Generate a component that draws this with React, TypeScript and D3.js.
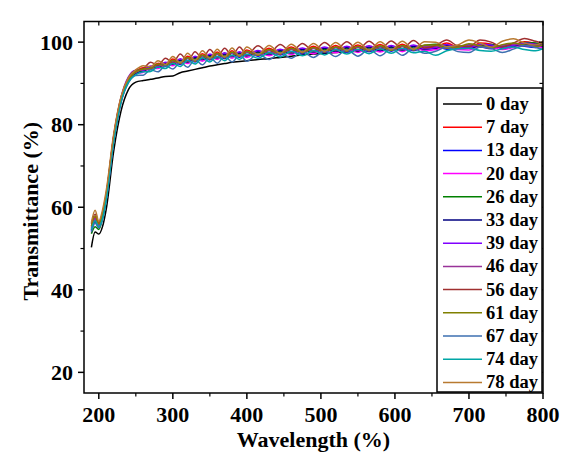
import React from "react";
import * as d3 from "d3";

const wavelengths = [190, 195, 200, 205, 210, 220, 230, 240, 250, 260, 270, 280, 290, 300, 310, 320, 330, 340, 350, 360, 370, 380, 390, 400, 415, 430, 445, 460, 475, 490, 505, 520, 535, 550, 565, 580, 595, 610, 625, 640, 655, 670, 685, 700, 715, 730, 745, 760, 775, 790, 800];

const legendLabels = ["0 day", "7 day", "13 day", "20 day", "26 day", "33 day", "39 day", "46 day", "56 day", "61 day", "67 day", "74 day", "78 day"];

const day0 = [50.3, 54.0, 53.5, 55.3, 59.5, 73.5, 83.3, 88.5, 90.3, 90.7, 91.0, 91.3, 91.7, 91.8, 92.6, 93.0, 93.4, 93.8, 94.2, 94.5, 94.8, 95.1, 95.3, 95.5, 95.8, 96.0, 96.3, 96.6, 96.9, 97.1, 97.3, 97.5, 97.7, 97.8, 98.0, 98.0, 98.2, 98.3, 98.4, 98.5, 98.5, 98.7, 98.6, 98.7, 98.9, 98.8, 98.8, 99.0, 99.2, 99.1, 99.0];
const day7 = [55.3, 57.5, 55.9, 58.2, 62.9, 76.9, 86.3, 91.0, 92.9, 93.8, 93.7, 94.9, 94.4, 95.9, 94.9, 96.6, 95.5, 97.2, 96.0, 97.6, 96.3, 97.9, 96.6, 98.1, 96.9, 98.5, 97.2, 98.8, 97.5, 99.0, 97.7, 99.2, 97.9, 99.3, 98.0, 99.4, 98.1, 99.5, 98.2, 98.4, 98.8, 99.8, 98.7, 98.6, 99.8, 99.5, 98.6, 99.3, 100.1, 99.7, 99.3];
const day13 = [54.2, 56.8, 55.2, 57.5, 62.2, 76.2, 85.8, 90.5, 92.4, 93.3, 93.4, 94.5, 94.1, 95.4, 94.6, 96.1, 95.2, 96.7, 95.7, 97.1, 96.0, 97.4, 96.3, 97.6, 96.6, 98.0, 96.9, 98.3, 97.2, 98.5, 97.4, 98.7, 97.6, 98.8, 97.7, 98.9, 97.8, 99.0, 97.9, 99.0, 99.0, 98.3, 98.6, 99.3, 98.9, 98.4, 99.2, 99.5, 99.0, 98.7, 99.3];
const day20 = [53.8, 56.3, 55.0, 57.3, 62.0, 76.0, 85.6, 90.4, 92.3, 92.7, 93.7, 93.6, 94.6, 94.3, 95.5, 94.8, 96.1, 95.4, 96.6, 95.8, 96.9, 96.1, 97.2, 96.3, 97.5, 96.7, 97.8, 97.0, 98.1, 97.2, 98.3, 97.4, 98.5, 97.5, 98.6, 97.6, 98.7, 97.7, 98.8, 97.9, 98.2, 98.9, 98.2, 98.1, 99.0, 98.8, 98.2, 98.7, 99.3, 99.0, 98.7];
const day26 = [53.6, 55.3, 54.6, 57.4, 62.3, 76.4, 86.0, 90.7, 92.6, 93.0, 93.8, 93.9, 94.7, 94.7, 95.5, 95.2, 96.1, 95.8, 96.6, 96.2, 96.9, 96.5, 97.2, 96.7, 97.5, 97.1, 97.8, 97.4, 98.1, 97.6, 98.3, 97.8, 98.5, 97.9, 98.6, 98.0, 98.7, 98.1, 98.8, 99.2, 99.5, 99.2, 98.8, 98.7, 99.2, 99.4, 99.0, 99.2, 99.9, 99.8, 99.4];
const day33 = [54.5, 56.6, 55.3, 57.6, 62.3, 76.3, 85.9, 90.6, 92.5, 93.0, 94.0, 94.0, 94.9, 94.7, 95.7, 95.2, 96.3, 95.8, 96.8, 96.2, 97.1, 96.5, 97.4, 96.7, 97.7, 97.1, 98.0, 97.4, 98.3, 97.6, 98.5, 97.8, 98.7, 97.9, 98.8, 98.0, 98.9, 98.1, 99.0, 98.3, 98.6, 99.1, 98.6, 98.5, 99.2, 99.1, 98.6, 99.0, 99.5, 99.3, 99.1];
const day39 = [55.0, 57.2, 55.6, 58.0, 62.8, 77.0, 86.6, 91.6, 93.2, 93.2, 94.2, 94.1, 95.1, 94.8, 96.0, 95.3, 96.6, 95.9, 97.1, 96.3, 97.4, 96.6, 97.7, 96.8, 98.0, 97.2, 98.3, 97.5, 98.6, 97.7, 98.8, 97.9, 99.0, 98.0, 99.1, 98.1, 99.2, 98.2, 99.3, 98.4, 98.7, 99.4, 98.7, 98.6, 99.5, 99.3, 98.7, 99.2, 99.8, 99.5, 99.2];
const day46 = [54.8, 57.0, 55.5, 57.8, 62.6, 76.6, 86.1, 90.9, 92.7, 93.4, 93.5, 94.5, 94.2, 95.4, 94.8, 96.1, 95.4, 96.7, 95.9, 97.1, 96.2, 97.4, 96.5, 97.6, 96.8, 98.0, 97.1, 98.3, 97.4, 98.5, 97.6, 98.7, 97.8, 98.8, 97.9, 98.9, 98.0, 99.0, 98.1, 99.0, 99.0, 98.5, 98.7, 99.3, 99.0, 98.5, 99.2, 99.5, 99.1, 98.9, 99.3];
const day56 = [56.0, 58.3, 56.3, 58.6, 63.3, 77.2, 86.6, 91.3, 93.2, 93.6, 95.1, 94.4, 96.1, 95.0, 97.1, 95.4, 97.7, 96.0, 98.2, 96.4, 98.5, 96.7, 98.8, 96.9, 99.1, 97.3, 99.4, 97.6, 99.7, 97.8, 99.9, 98.0, 100.1, 98.2, 100.2, 98.3, 100.3, 98.4, 100.4, 98.6, 99.2, 100.5, 99.1, 98.9, 100.5, 100.0, 98.8, 99.8, 100.9, 100.2, 99.7];
const day61 = [55.5, 57.8, 56.0, 58.2, 63.0, 76.8, 86.2, 90.9, 92.8, 93.5, 93.6, 94.7, 94.3, 95.6, 94.8, 96.3, 95.4, 96.9, 95.9, 97.3, 96.2, 97.6, 96.5, 97.8, 96.8, 98.2, 97.1, 98.5, 97.4, 98.7, 97.6, 98.9, 97.8, 99.0, 97.9, 99.1, 98.0, 99.2, 98.1, 99.3, 99.3, 98.6, 98.8, 99.6, 99.1, 98.6, 99.4, 99.8, 99.3, 98.9, 99.4];
const day67 = [54.0, 56.2, 55.0, 57.0, 61.6, 75.6, 85.3, 90.1, 91.9, 92.0, 93.3, 92.8, 94.3, 93.5, 95.2, 93.9, 95.8, 94.5, 96.3, 94.9, 96.6, 95.2, 96.9, 95.4, 97.2, 95.8, 97.5, 96.1, 97.8, 96.3, 98.0, 96.5, 98.2, 96.6, 98.3, 96.7, 98.4, 96.8, 98.5, 97.3, 97.8, 98.8, 97.7, 97.5, 98.8, 98.5, 97.5, 98.3, 99.2, 98.7, 98.3];
const day74 = [54.6, 56.7, 55.3, 57.2, 61.8, 75.8, 85.5, 90.3, 92.1, 92.8, 92.9, 94.0, 93.6, 94.9, 94.1, 95.6, 94.7, 96.2, 95.2, 96.6, 95.5, 96.9, 95.8, 97.1, 96.1, 97.5, 96.4, 97.8, 96.7, 98.0, 96.9, 98.2, 97.1, 98.3, 97.2, 98.4, 97.3, 98.5, 97.4, 97.8, 96.8, 97.9, 98.4, 98.5, 98.0, 97.8, 98.4, 98.8, 98.2, 97.9, 98.4];
const day78 = [56.3, 59.3, 56.6, 59.3, 64.0, 77.6, 86.8, 91.4, 93.3, 94.3, 94.0, 95.5, 94.6, 96.5, 95.0, 97.3, 95.6, 97.9, 96.1, 98.3, 96.4, 98.6, 96.7, 98.8, 97.0, 99.2, 97.3, 99.5, 97.6, 99.7, 97.8, 99.9, 98.0, 100.0, 98.1, 100.1, 98.2, 100.2, 98.3, 100.1, 100.0, 98.9, 99.3, 100.5, 99.8, 98.8, 100.2, 100.8, 99.8, 99.3, 100.2];

const seriesValues = [day0, day7, day13, day20, day26, day33, day39, day46, day56, day61, day67, day74, day78];
const seriesColors = ["#000000", "#FF0000", "#0000FF", "#FF00FF", "#008000", "#000080", "#8000FF", "#993399", "#A03030", "#808000", "#3D6FB0", "#00A6A6", "#B87A30"];

const xTicks = [200, 300, 400, 500, 600, 700, 800];
const xMinorTicks = [250, 350, 450, 550, 650, 750];
const yTicks = [20, 40, 60, 80, 100];
const yMinorTicks = [30, 50, 70, 90];

const W = 563;
const H = 452;
const PL = 84;
const PR = 543;
const PT = 21.5;
const PB = 393;
const FONT = "'Liberation Serif', 'Times New Roman', serif";

export default function App() {
  const x = d3.scaleLinear().domain([180, 800]).range([PL, PR]);
  const y = d3.scaleLinear().domain([15, 105]).range([PB, PT]);
  const line = d3
    .line<number>()
    .x((_, i) => x(wavelengths[i]))
    .y((d) => y(d))
    .curve(d3.curveMonotoneX);

  const major = 6;
  const minor = 3.5;
  const legX = 437;
  const legY = 88;
  const legW = 105;
  const legH = 304;
  const rowY0 = 104;
  const rowStep = 23.2;

  return (
    <div style={{ position: "absolute", left: 0, top: 0 }}>
      <svg width={W} height={H} style={{ display: "block", background: "#fff" }}>
        <defs>
          <clipPath id="plotclip">
            <rect x={PL} y={PT} width={PR - PL} height={PB - PT} />
          </clipPath>
        </defs>
        <g clipPath="url(#plotclip)">
          {seriesValues.map((vals, k) => (
            <path key={k} d={line(vals) || ""} fill="none" stroke={seriesColors[k]} strokeWidth={1.5} />
          ))}
        </g>
        <rect x={PL} y={PT} width={PR - PL} height={PB - PT} fill="none" stroke="#000" strokeWidth={1.5} />
        {xTicks.map((t) => (
          <g key={"xt" + t}>
            <line x1={x(t)} x2={x(t)} y1={PB} y2={PB + major} stroke="#000" strokeWidth={1.5} />
            <line x1={x(t)} x2={x(t)} y1={PT} y2={PT + major - 2} stroke="#000" strokeWidth={1.2} />
            <text x={x(t)} y={422} textAnchor="middle" fontFamily={FONT} fontWeight="bold" fontSize={22}>
              {t}
            </text>
          </g>
        ))}
        {xMinorTicks.map((t) => (
          <g key={"xm" + t}>
            <line x1={x(t)} x2={x(t)} y1={PB} y2={PB + minor} stroke="#000" strokeWidth={1.2} />
            <line x1={x(t)} x2={x(t)} y1={PT} y2={PT + minor} stroke="#000" strokeWidth={1.2} />
          </g>
        ))}
        {yTicks.map((t) => (
          <g key={"yt" + t}>
            <line x1={PL - major} x2={PL} y1={y(t)} y2={y(t)} stroke="#000" strokeWidth={1.5} />
            <line x1={PR - major + 2} x2={PR} y1={y(t)} y2={y(t)} stroke="#000" strokeWidth={1.2} />
            <text x={73} y={y(t)} dy="0.35em" textAnchor="end" fontFamily={FONT} fontWeight="bold" fontSize={22}>
              {t}
            </text>
          </g>
        ))}
        {yMinorTicks.map((t) => (
          <g key={"ym" + t}>
            <line x1={PL - minor} x2={PL} y1={y(t)} y2={y(t)} stroke="#000" strokeWidth={1.2} />
            <line x1={PR - minor} x2={PR} y1={y(t)} y2={y(t)} stroke="#000" strokeWidth={1.2} />
          </g>
        ))}
        <text x={(PL + PR) / 2} y={447} textAnchor="middle" fontFamily={FONT} fontWeight="bold" fontSize={22}>
          Wavelength (%)
        </text>
        <text
          transform={`translate(38, ${(PT + PB) / 2 + 4}) rotate(-90)`}
          textAnchor="middle"
          fontFamily={FONT}
          fontWeight="bold"
          fontSize={22}
        >
          Transmittance (%)
        </text>
        <rect x={legX} y={legY} width={legW} height={legH} fill="#fff" stroke="#000" strokeWidth={1.5} />
        {legendLabels.map((lab, i) => {
          const ly = rowY0 + i * rowStep;
          return (
            <g key={lab}>
              <line x1={443} x2={482} y1={ly} y2={ly} stroke={seriesColors[i]} strokeWidth={1.5} />
              <text x={486} y={ly + 6} fontFamily={FONT} fontWeight="bold" fontSize={18.5}>
                {lab}
              </text>
            </g>
          );
        })}
      </svg>
    </div>
  );
}
